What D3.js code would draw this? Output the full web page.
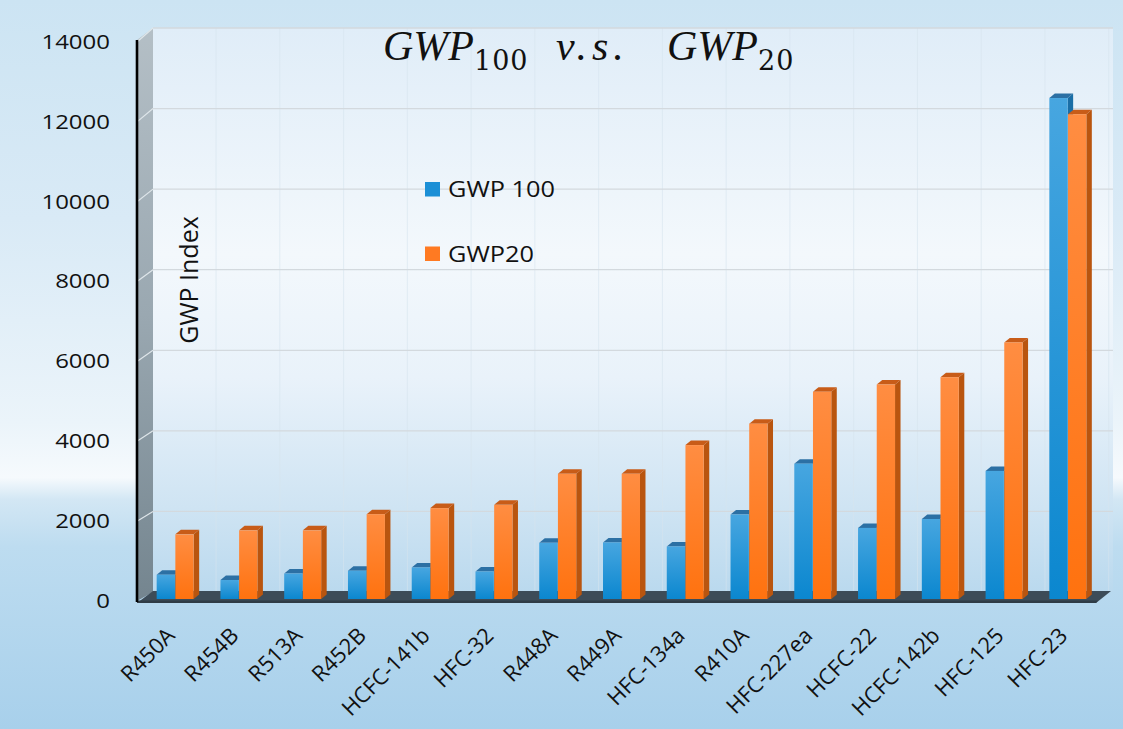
<!DOCTYPE html>
<html><head><meta charset="utf-8">
<script src="https://cdn.jsdelivr.net/npm/d3@7"></script>
<style>html,body{margin:0;padding:0;background:#cfe5f4;}svg{display:block;}</style>
</head><body>
<script>
const categories = ["R450A","R454B","R513A","R452B","HCFC-141b","HFC-32","R448A","R449A","HFC-134a","R410A","HFC-227ea","HCFC-22","HCFC-142b","HFC-125","HFC-23"];
const gwp100 = [600, 470, 630, 700, 780, 680, 1390, 1400, 1300, 2090, 3350, 1760, 1980, 3170, 12400];
const gwp20  = [1600, 1700, 1700, 2100, 2250, 2330, 3100, 3100, 3810, 4340, 5130, 5310, 5490, 6350, 12000];
const seriesNames = ["GWP 100", "GWP20"];
const yTicks = [0, 2000, 4000, 6000, 8000, 10000, 12000, 14000];

const W = 1123, H = 729;
const svg = d3.select("body").append("svg").attr("width", W).attr("height", H);
const defs = svg.append("defs");

function vgrad(id, stops, x2 = 0, y2 = 1) {
  const g = defs.append("linearGradient").attr("id", id)
    .attr("x1", 0).attr("y1", 0).attr("x2", x2).attr("y2", y2);
  stops.forEach(([o, c]) => g.append("stop").attr("offset", o).attr("stop-color", c));
}
vgrad("bg", [[0, "#cce4f3"], [0.3, "#d9eaf6"], [0.58, "#ebf4fa"], [0.655, "#f6fafd"], [0.685, "#d3e7f4"], [0.75, "#bddcf0"], [1, "#a8d0eb"]]);
vgrad("wall", [[0, "#e0edf8"], [0.4, "#f3f8fc"], [0.62, "#e9f2fa"], [0.85, "#cfe4f3"], [1, "#bad9ee"]]);
vgrad("side", [[0, "#b4bfc6"], [0.5, "#9aa8b1"], [1, "#74858f"]]);
vgrad("blueF", [[0, "#47a6e0"], [1, "#0b87cf"]]);
vgrad("orangeF", [[0, "#ff8d42"], [1, "#ff720f"]]);

svg.append("rect").attr("width", W).attr("height", H).attr("fill", "url(#bg)");

// scales
const x = d3.scaleBand().domain(categories).range([150.3, 1092.7]).paddingInner(0.42).paddingOuter(0.1);
const xs = d3.scaleBand().domain(seriesNames).range([0, x.bandwidth()]).paddingInner(0.02);
const yBar = d3.scaleLinear().domain([0, 14000]).range([599, 599 - 14000 * 0.0404]);
const yBack = d3.scaleLinear().domain([0, 14000]).range([592, 28]);
const yFront = d3.scaleLinear().domain([0, 14000]).range([601, 42]);

const wallL = 153, wallR = 1113, frontL = 137;

// back wall
svg.append("rect").attr("x", wallL).attr("y", yBack(14000)).attr("width", wallR - wallL)
  .attr("height", yBack(0) - yBack(14000)).attr("fill", "url(#wall)");
// faint vertical lines
svg.append("g").selectAll("line").data(d3.range(categories.length + 1)).join("line")
  .attr("x1", i => x.range()[0] + i * x.step() + 2).attr("x2", i => x.range()[0] + i * x.step() + 2)
  .attr("y1", yBack(14000)).attr("y2", yBack(0))
  .attr("stroke", "#d7e5ef").attr("stroke-width", 1).attr("opacity", 0.6);
// gridlines on back wall
svg.append("g").selectAll("line").data(yTicks.filter(d => d > 0)).join("line")
  .attr("x1", wallL).attr("x2", wallR).attr("y1", d => yBack(d)).attr("y2", d => yBack(d))
  .attr("stroke", "#d3d9de").attr("stroke-width", 1.3);

// side wall
svg.append("polygon")
  .attr("points", [[frontL, yFront(0)], [frontL, yFront(14000) - 2], [wallL, yBack(14000)], [wallL, yBack(0)]].join(" "))
  .attr("fill", "url(#side)");
svg.append("g").selectAll("line").data(yTicks.filter(d => d > 0)).join("line")
  .attr("x1", frontL).attr("x2", wallL).attr("y1", d => yFront(d)).attr("y2", d => yBack(d))
  .attr("stroke", "#dfe6ea").attr("stroke-width", 1.2);

// floor
svg.append("polygon")
  .attr("points", [[frontL, 603], [1096, 603], [1111, 591], [wallL, 591]].join(" "))
  .attr("fill", "#3d4c58");
svg.append("polygon")
  .attr("points", [[frontL, 600.5], [1098, 600.5], [1096, 603], [frontL, 603]].join(" "))
  .attr("fill", "#2f3c46");

// bars
const dx = 5.5, dy = -4.5, base = 599;
const seriesStyle = [
  { name: "GWP 100", values: gwp100, front: "url(#blueF)", side: "#1a6ea6", top: "#2c70a4", legend: "#1b8fd6" },
  { name: "GWP20", values: gwp20, front: "url(#orangeF)", side: "#b9550f", top: "#c85c18", legend: "#ff7a22" }
];
const groups = svg.append("g").selectAll("g").data(categories).join("g");
groups.each(function (cat, i) {
  const g = d3.select(this);
  seriesStyle.forEach(s => {
    const v = s.values[i];
    const bx = x(cat) + xs(s.name), w = xs.bandwidth(), yt = yBar(v);
    g.append("polygon")
      .attr("points", [[bx + w, yt], [bx + w + dx, yt + dy], [bx + w + dx, base + dy], [bx + w, base]].join(" "))
      .attr("fill", s.side);
    g.append("polygon")
      .attr("points", [[bx, yt], [bx + dx, yt + dy], [bx + w + dx, yt + dy], [bx + w, yt]].join(" "))
      .attr("fill", s.top);
    g.append("rect").attr("x", bx).attr("y", yt).attr("width", w).attr("height", base - yt)
      .attr("fill", s.front);
  });
});

// y axis
const yAxis = d3.axisLeft(yFront).tickValues(yTicks).tickSize(0).tickSizeOuter(0).tickPadding(22.5).tickFormat(d3.format("d"));
const ag = svg.append("g").attr("transform", `translate(${frontL},0)`).call(yAxis);
ag.select(".domain").attr("stroke", "#000").attr("stroke-width", 2.6).attr("d", `M0,${yFront(14000) - 2}V${yFront(0) + 1}`);
ag.selectAll(".tick text").attr("font-family", "Open Sans").attr("font-size", 20).attr("fill", "#111")
  .attr("transform", "scale(1.2,1)");

// x labels
svg.append("g").selectAll("text").data(categories).join("text")
  .attr("transform", d => `translate(${x(d) + x.bandwidth() / 2 + 1},637) rotate(-45)`)
  .attr("text-anchor", "end").attr("font-family", "Open Sans").attr("font-size", 22).attr("fill", "#111")
  .text(d => d);

// y title
svg.append("text").attr("transform", "translate(198,280) rotate(-90)").attr("text-anchor", "middle")
  .attr("font-family", "Open Sans").attr("font-size", 25).attr("fill", "#111").text("GWP Index");

// legend
const lg = svg.append("g").selectAll("g").data(seriesStyle).join("g")
  .attr("transform", (d, i) => `translate(425,${182 + i * 64.5})`);
lg.append("rect").attr("width", 15).attr("height", 14.5).attr("fill", d => d.legend);
lg.append("text").attr("transform", "translate(23,7.5) scale(1.15,1)").attr("dy", "0.36em").attr("font-family", "Open Sans")
  .attr("font-size", 22).attr("fill", "#111").text(d => d.name);

// title
const tg = svg.append("g").attr("fill", "#111");
const mainFont = { family: "Liberation Serif", size: 42 };
tg.append("text").attr("x", 383).attr("y", 60).attr("font-family", mainFont.family).attr("font-style", "italic").attr("font-size", mainFont.size).text("GWP");
tg.append("text").attr("x", 474).attr("y", 70).attr("font-family", "DejaVu Serif").attr("font-size", 27).attr("letter-spacing", 1).text("100");
tg.append("text").attr("x", 556).attr("y", 60).attr("font-family", mainFont.family).attr("font-style", "italic").attr("font-size", mainFont.size).attr("letter-spacing", 5).text("v.s.");
tg.append("text").attr("x", 667).attr("y", 60).attr("font-family", mainFont.family).attr("font-style", "italic").attr("font-size", mainFont.size).text("GWP");
tg.append("text").attr("x", 758).attr("y", 70).attr("font-family", "DejaVu Serif").attr("font-size", 27).attr("letter-spacing", 1).text("20");
</script>
</body></html>
